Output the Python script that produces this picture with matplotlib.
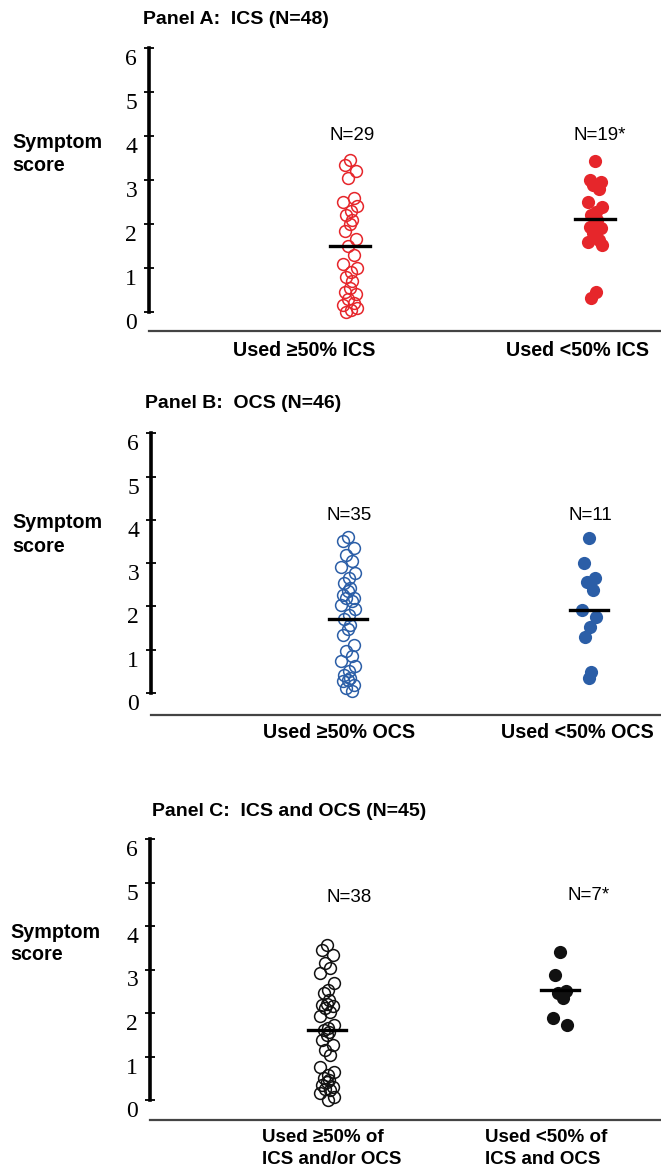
import matplotlib
matplotlib.use('Agg')
import matplotlib.pyplot as plt
import matplotlib.transforms as mtransforms

FIG_W, FIG_H = 661, 1170
SANS = 'Liberation Sans'
SERIF = 'Liberation Serif'

# Panel A: ICS (N=48)
ics_high = [3.45, 3.35, 3.2, 3.05, 2.6, 2.5, 2.4, 2.3, 2.2, 2.1, 2.0, 1.85,
            1.65, 1.5, 1.3, 1.1, 1.0, 0.9, 0.8, 0.7, 0.55, 0.45, 0.4, 0.3,
            0.2, 0.15, 0.1, 0.05, 0.0]
ics_low = [3.43, 3.0, 2.95, 2.89, 2.8, 2.5, 2.39, 2.27, 2.2, 2.09, 2.02,
           1.93, 1.9, 1.8, 1.64, 1.6, 1.52, 0.45, 0.32]
ics_means = [1.5, 2.11]

# Panel B: OCS (N=46)
ocs_high = [3.61, 3.5, 3.35, 3.19, 3.04, 2.92, 2.77, 2.65, 2.54, 2.42, 2.35,
            2.27, 2.2, 2.19, 2.12, 2.04, 1.93, 1.81, 1.7, 1.58, 1.47, 1.35,
            1.12, 0.97, 0.85, 0.73, 0.62, 0.5, 0.42, 0.35, 0.3, 0.27, 0.19,
            0.12, 0.04]
ocs_low = [3.57, 3.0, 2.65, 2.57, 2.38, 1.92, 1.76, 1.53, 1.3, 0.49, 0.34]
ocs_means = [1.71, 1.92]

# Panel C: ICS and OCS (N=45)
both_high = [3.56, 3.45, 3.33, 3.14, 3.03, 2.91, 2.68, 2.53, 2.45, 2.3, 2.2,
             2.18, 2.15, 2.11, 2.03, 1.92, 1.72, 1.65, 1.6, 1.57, 1.49, 1.38,
             1.26, 1.15, 1.03, 0.77, 0.65, 0.57, 0.5, 0.45, 0.42, 0.34, 0.31,
             0.25, 0.23, 0.15, 0.08, 0.0]
both_low = [3.41, 2.87, 2.5, 2.45, 2.34, 1.88, 1.72]
both_means = [1.61, 2.53]

Y_TICKS = [0, 1, 2, 3, 4, 5, 6]
JITTER = [0.0, -0.02, 0.025, -0.01, 0.015, -0.03, 0.03, 0.005, -0.015, 0.01]


def fig_xy(x, y):
    return x / FIG_W, 1 - y / FIG_H


def make_axes(fig, y0, unit, xs, x1, x2, xline_px):
    ymin, ymax = -0.6, 6.3
    top = y0 - ymax * unit
    bottom = y0 - ymin * unit
    right = 660
    ax = fig.add_axes([xs / FIG_W, 1 - bottom / FIG_H,
                       (right - xs) / FIG_W, (bottom - top) / FIG_H])
    ux = x2 - x1
    ax.set_xlim(1 - (x1 - xs) / ux, 1 + (right - x1) / ux)
    ax.set_ylim(ymin, ymax)
    ax.patch.set_alpha(0)

    for s in ['top', 'right', 'bottom']:
        ax.spines[s].set_visible(False)
    ax.spines['left'].set_bounds(0, 6)
    ax.spines['left'].set_linewidth(2.6)
    ax.set_xticks([])
    ax.set_yticks(Y_TICKS)
    ax.set_yticklabels([str(t) for t in Y_TICKS], fontfamily=SERIF, fontsize=17)
    ax.tick_params(axis='y', direction='inout', length=7, width=1.3, pad=5)
    offset = mtransforms.ScaledTranslation(0, -9 / 100, fig.dpi_scale_trans)
    for lab in ax.get_yticklabels():
        lab.set_transform(lab.get_transform() + offset)

    ax.axhline(-(xline_px - y0) / unit, color='#444444', lw=1.6, clip_on=False)
    return ax


def draw_groups(ax, groups, means, color):
    for ix, vals in enumerate(groups):
        pos = ix + 1
        xs = [pos + JITTER[i % len(JITTER)] for i in range(len(vals))]
        if ix == 0:
            ax.plot(xs, vals, 'o', mfc='none', mec=color, ms=8.5, mew=1.1)
        else:
            ax.plot(xs, vals, 'o', color=color, ms=9.5, mew=0)
        ax.plot([pos - 0.08, pos + 0.08], [means[ix], means[ix]], color='black', lw=2.4)


def label(fig, x, y, s, **kw):
    fx, fy = fig_xy(x, y)
    fig.text(fx, fy, s, family=SANS, va='center', **kw)


fig = plt.figure(figsize=(FIG_W / 100, FIG_H / 100), dpi=100)

# Panel A
ax = make_axes(fig, 312, 44.0, 149, 350, 595, 331)
draw_groups(ax, [ics_high, ics_low], ics_means, '#e6262b')
label(fig, 143, 20, 'Panel A:  ICS (N=48)', fontsize=14, weight='bold')
label(fig, 12, 142, 'Symptom', fontsize=14.2, weight='bold')
label(fig, 12, 166, 'score', fontsize=14.2, weight='bold')
label(fig, 352, 135, 'N=29', fontsize=13.5, ha='center')
label(fig, 600, 135, 'N=19*', fontsize=13.5, ha='center')
label(fig, 304, 350, 'Used \u226550% ICS', fontsize=14.2, weight='bold', ha='center')
label(fig, 577, 350, 'Used <50% ICS', fontsize=14.2, weight='bold', ha='center')

# Panel B
ax = make_axes(fig, 693, 43.3, 151, 348, 589, 715)
draw_groups(ax, [ocs_high, ocs_low], ocs_means, '#2b5ea7')
label(fig, 145, 403, 'Panel B:  OCS (N=46)', fontsize=14, weight='bold')
label(fig, 12, 523, 'Symptom', fontsize=14.2, weight='bold')
label(fig, 12, 547, 'score', fontsize=14.2, weight='bold')
label(fig, 349, 515, 'N=35', fontsize=13.5, ha='center')
label(fig, 590, 515, 'N=11', fontsize=13.5, ha='center')
label(fig, 339, 733, 'Used \u226550% OCS', fontsize=14.2, weight='bold', ha='center')
label(fig, 577, 733, 'Used <50% OCS', fontsize=14.2, weight='bold', ha='center')

# Panel C
ax = make_axes(fig, 1100, 43.5, 150, 327, 560, 1120)
draw_groups(ax, [both_high, both_low], both_means, '#111111')
label(fig, 152, 812, 'Panel C:  ICS and OCS (N=45)', fontsize=14, weight='bold')
label(fig, 10, 932, 'Symptom', fontsize=14.2, weight='bold')
label(fig, 10, 955, 'score', fontsize=14.2, weight='bold')
label(fig, 349, 897, 'N=38', fontsize=13.5, ha='center')
label(fig, 589, 895, 'N=7*', fontsize=13.5, ha='center')
label(fig, 262, 1138, 'Used \u226550% of', fontsize=13.5, weight='bold', ha='left')
label(fig, 262, 1160, 'ICS and/or OCS', fontsize=13.5, weight='bold', ha='left')
label(fig, 485, 1138, 'Used <50% of', fontsize=13.5, weight='bold', ha='left')
label(fig, 485, 1160, 'ICS and OCS', fontsize=13.5, weight='bold', ha='left')

fig.savefig('out.png', dpi=100)
